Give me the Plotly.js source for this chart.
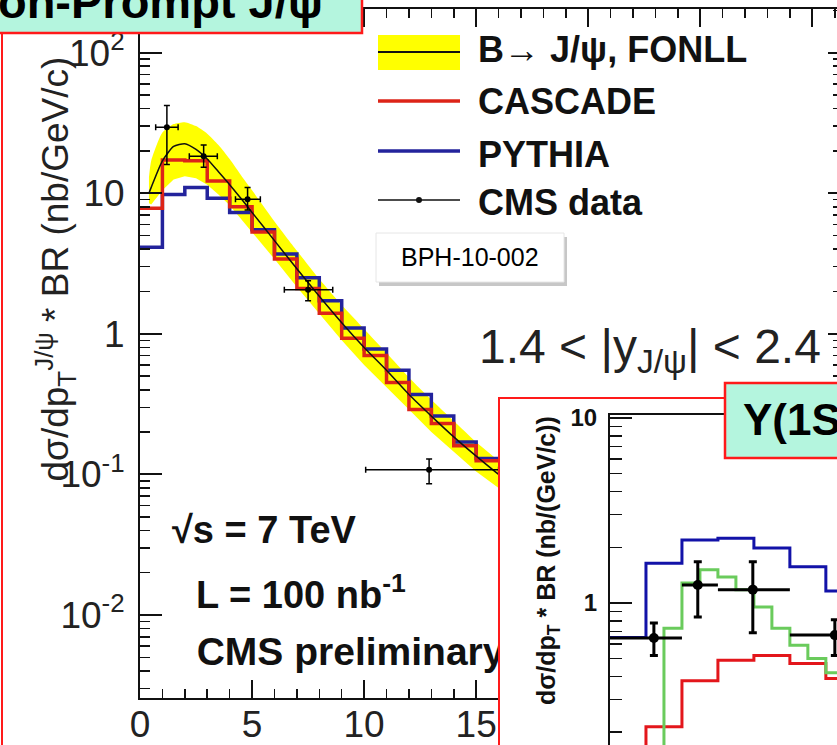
<!DOCTYPE html>
<html><head><meta charset="utf-8">
<script src="https://cdn.plot.ly/plotly-3.0.1.min.js"></script>
<style>html,body{margin:0;padding:0;background:#fff;} #chart{width:837px;height:745px;}</style>
</head><body><div id="chart"></div>
<script>
// ===== Main panel: non-prompt J/psi, 1.4 < |y| < 2.4 =====
const mainBinEdges = [0,1,2,3,4,5,6,7,8,9,10,11,12,13,14,15,16];
const cascadeMain = [7.8,17.2,17.0,12.2,8.0,5.3,3.4,2.1,1.4,0.93,0.70,0.45,0.29,0.23,0.16,0.125];
const pythiaMain  = [4.13,9.8,11.0,9.2,7.3,5.5,3.7,2.5,1.72,1.1,0.78,0.55,0.37,0.26,0.17,0.13];

const fonllPt      = [0.4,0.5,1.0,1.5,2.0,2.5,3.0,3.5,4.0,4.5,5.0,6.0,7.0,8.0,9.0,10,11,12,13,14,15,16];
const fonllCentral = [10,11,17,21.5,22.5,20.5,17.5,14.2,11.5,9.2,7.3,4.6,2.9,1.85,1.2,0.8,0.55,0.37,0.26,0.185,0.135,0.1];
const fonllHigh    = [13,17,27,31,32,30,26.5,22,17.5,13.5,10.5,6.3,3.9,2.45,1.6,1.08,0.73,0.49,0.34,0.24,0.17,0.125];
const fonllLow     = [8.5,8.3,10.5,12.5,13.2,12.8,11.5,9.8,8.2,6.6,5.3,3.4,2.15,1.38,0.9,0.6,0.42,0.29,0.2,0.145,0.105,0.08];

const cmsPt    = [1.2, 2.84, 4.8, 7.5, 12.9];
const cmsPtLo  = [0.7, 2.2, 4.26, 6.44, 10.07];
const cmsPtHi  = [1.7, 3.45, 5.37, 8.6, 16.0];
const cmsVal   = [29.5, 18.3, 9.06, 2.06, 0.108];
const cmsValLo = [16, 15.3, 7.6, 1.72, 0.086];
const cmsValHi = [42, 22, 11, 2.38, 0.129];

// ===== Inset: Upsilon(1S) =====
const upsBinEdges = [0,1,2,3,4,5,6,7];
const upsPythia   = [0.65,1.64,2.19,2.24,1.98,1.57,1.16];
const upsCascade  = [0.10,0.214,0.38,0.49,0.52,0.47,0.39];
const upsGreenEdges = [1.0,1.5,2.0,2.5,3.0,3.5,4.0,4.5,5.0,5.5,6.0,6.5];
const upsGreen      = [0.10,0.73,1.28,1.51,1.38,1.18,0.95,0.73,0.59,0.50,0.42];
const upsPt    = [1.22, 2.44, 3.97, 6.25];
const upsPtLo  = [0, 2, 3, 5];
const upsPtHi  = [2, 3, 5, 8];
const upsVal   = [0.647, 1.25, 1.18, 0.67];
const upsValLo = [0.52, 0.84, 0.69, 0.52];
const upsValHi = [0.78, 1.67, 1.67, 0.81];

const yTickText = ['10<sup>-2</sup>','10<sup>-1</sup>','1','10','10<sup>2</sup>'];

// ---------- helpers ----------
const F = 'Liberation Sans, Arial, Helvetica, sans-serif';
const W = 837, H = 745;
const px = x => x / W, py = y => 1 - y / H;
function steps(edges, vals) {
  const x = [], y = [];
  vals.forEach((v, i) => { x.push(edges[i]); y.push(v); });
  x.push(edges[vals.length]); y.push(vals[vals.length - 1]);
  return {x, y};
}
const diff = (a, b) => a.map((v, i) => v - b[i]);

const pyM = steps(mainBinEdges, pythiaMain);
const caM = steps(mainBinEdges, cascadeMain);
const pyU = steps(upsBinEdges, upsPythia);
const caU = steps(upsBinEdges, upsCascade);
const grU = steps(upsGreenEdges, upsGreen);

const traces = [
  {x: fonllPt, y: fonllLow, mode: 'lines', line: {width: 0, color: 'rgba(0,0,0,0)'}, hoverinfo: 'skip'},
  {x: fonllPt, y: fonllHigh, mode: 'lines', fill: 'tonexty', fillcolor: '#ffff00', line: {width: 0, color: 'rgba(0,0,0,0)', shape: 'spline', smoothing: 0.6}, hoverinfo: 'skip'},
  {x: pyM.x, y: pyM.y, mode: 'lines', name: 'PYTHIA', line: {shape: 'hv', color: '#23239c', width: 3.5}},
  {x: caM.x, y: caM.y, mode: 'lines', name: 'CASCADE', line: {shape: 'hv', color: '#dd2418', width: 3.5}},
  {x: fonllPt, y: fonllCentral, mode: 'lines', name: 'FONLL', line: {color: '#111', width: 1.5, shape: 'spline', smoothing: 0.6}},
  {x: cmsPt, y: cmsVal, mode: 'markers', name: 'CMS data', marker: {size: 6, color: '#000'},
   error_x: {type: 'data', symmetric: false, array: diff(cmsPtHi, cmsPt), arrayminus: diff(cmsPt, cmsPtLo), thickness: 1.5, width: 3, color: '#000'},
   error_y: {type: 'data', symmetric: false, array: diff(cmsValHi, cmsVal), arrayminus: diff(cmsVal, cmsValLo), thickness: 1.5, width: 3, color: '#000'}},
  {x: [2.53], y: [0.00519], mode: 'text', text: ['<b>CMS preliminary</b>'], textposition: 'middle right',
   textfont: {size: 39, color: '#111', family: F}, cliponaxis: true, hoverinfo: 'skip'},
  {x: [], y: [], xaxis: 'x', yaxis: 'y4', mode: 'lines'},
  {x: [], y: [], xaxis: 'x2', yaxis: 'y2', mode: 'lines'},
  {x: pyU.x, y: pyU.y, xaxis: 'x3', yaxis: 'y3', mode: 'lines', line: {shape: 'hv', color: '#1212a8', width: 3}},
  {x: caU.x, y: caU.y, xaxis: 'x3', yaxis: 'y3', mode: 'lines', line: {shape: 'hv', color: '#e3161b', width: 3}},
  {x: grU.x, y: grU.y, xaxis: 'x3', yaxis: 'y3', mode: 'lines', line: {shape: 'hv', color: '#6acb5c', width: 3}},
  {x: upsPt, y: upsVal, xaxis: 'x3', yaxis: 'y3', mode: 'markers', marker: {size: 10, color: '#000'},
   error_x: {type: 'data', symmetric: false, array: diff(upsPtHi, upsPt), arrayminus: diff(upsPt, upsPtLo), thickness: 3, width: 0, color: '#000'},
   error_y: {type: 'data', symmetric: false, array: diff(upsValHi, upsVal), arrayminus: diff(upsVal, upsValLo), thickness: 3, width: 4, color: '#000'}}
];

const axLine = {showline: true, linewidth: 2, linecolor: '#111', tickcolor: '#111', showgrid: false, zeroline: false};
const layout = {
  width: W, height: H, margin: {l: 0, r: 0, t: 0, b: 0},
  paper_bgcolor: '#fff', plot_bgcolor: '#fff', showlegend: false,
  font: {family: F, color: '#111'},
  xaxis: Object.assign({}, axLine, {domain: [px(140), 1], range: [0, 31.1], anchor: 'y', mirror: 'ticks',
    ticks: 'inside', ticklen: 18, tickwidth: 2, dtick: 5, tick0: 0,
    tickfont: {size: 37, color: '#222', family: F}, ticklabelstandoff: -7,
    minor: {ticks: 'inside', ticklen: 9, tickwidth: 1.5, dtick: 1, tickcolor: '#111', showgrid: false}}),
  yaxis: Object.assign({}, axLine, {domain: [py(698), py(9)], type: 'log', range: [-2.59, 2.31], anchor: 'x',
    ticks: 'inside', ticklen: 22, tickwidth: 2, tickmode: 'array', tickvals: [0.01, 0.1, 1, 10, 100], ticktext: yTickText,
    tickfont: {size: 37, color: '#222', family: F}, ticklabelstandoff: 6,
    minor: {ticks: 'inside', ticklen: 10, tickwidth: 1.5, dtick: 'D1', tickcolor: '#111', showgrid: false}}),
  yaxis4: {overlaying: 'y', side: 'right', type: 'log', range: [-2.59, 2.31], anchor: 'x', showline: false,
    ticks: 'inside', ticklen: 9, tickwidth: 2, tickcolor: '#111', dtick: 1, showticklabels: false, showgrid: false, zeroline: false,
    minor: {ticks: 'inside', ticklen: 4, tickwidth: 1.5, dtick: 'D1', tickcolor: '#111', showgrid: false}},
  xaxis2: {domain: [px(499), 1], anchor: 'y2', visible: false, range: [0, 1]},
  yaxis2: {domain: [0, py(398)], anchor: 'x2', visible: false, range: [0, 1]},
  xaxis3: Object.assign({}, axLine, {domain: [px(610), 1], anchor: 'y3', range: [0, 6.31], side: 'top', ticks: '', showticklabels: false}),
  yaxis3: Object.assign({}, axLine, {domain: [0, py(415)], anchor: 'x3', type: 'log', range: [-0.768, 1.016],
    ticks: 'inside', ticklen: 22, tickwidth: 2, tickmode: 'array', tickvals: [1, 10], ticktext: ['1', '10'],
    tickfont: {size: 24, color: '#111', family: F, weight: 'bold'}, ticklabelstandoff: 6,
    minor: {ticks: 'inside', ticklen: 12, tickwidth: 1.5, dtick: 'D1', tickcolor: '#111', showgrid: false}}),
  shapes: [
    {type: 'line', xref: 'paper', yref: 'paper', x0: px(2), x1: px(2), y0: 0, y1: 1, line: {color: '#ff1a1a', width: 2}},
    {type: 'rect', xref: 'paper', yref: 'paper', x0: -0.1, x1: px(362), y0: py(33), y1: 1.1, fillcolor: '#b4f5de', line: {color: '#ff1a1a', width: 2.5}},
    // legend samples
    {type: 'rect', xref: 'paper', yref: 'paper', x0: px(378), x1: px(460), y0: py(70), y1: py(35), fillcolor: '#ffff00', line: {width: 0}},
    {type: 'line', xref: 'paper', yref: 'paper', x0: px(378), x1: px(460), y0: py(52), y1: py(52), line: {color: '#111', width: 2}},
    {type: 'line', xref: 'paper', yref: 'paper', x0: px(378), x1: px(460), y0: py(101), y1: py(101), line: {color: '#dd2418', width: 3.5}},
    {type: 'line', xref: 'paper', yref: 'paper', x0: px(378), x1: px(460), y0: py(151), y1: py(151), line: {color: '#23239c', width: 3.5}},
    {type: 'line', xref: 'paper', yref: 'paper', x0: px(378), x1: px(460), y0: py(200), y1: py(200), line: {color: '#111', width: 1.5}},
    {type: 'circle', xref: 'paper', yref: 'paper', x0: px(416), x1: px(422), y0: py(203), y1: py(197), fillcolor: '#111', line: {width: 0}},
    // BPH box
    {type: 'rect', xref: 'paper', yref: 'paper', x0: px(379), x1: px(567), y0: py(286), y1: py(237), fillcolor: 'rgba(0,0,0,0.22)', line: {width: 0}},
    {type: 'rect', xref: 'paper', yref: 'paper', x0: px(376), x1: px(564), y0: py(282), y1: py(233), fillcolor: '#fff', line: {color: '#e6e6e6', width: 1}},
    // inset frame and title box
    {type: 'rect', xref: 'paper', yref: 'paper', x0: px(499), x1: 1.1, y0: -0.1, y1: py(398), line: {color: '#ff1a1a', width: 2}},
    {type: 'rect', xref: 'paper', yref: 'paper', x0: px(725), x1: 1.1, y0: py(458), y1: py(383), fillcolor: '#b4f5de', line: {color: '#ff1a1a', width: 2.5}}
  ],
  annotations: []
};

function ann(text, x, y, o) {
  layout.annotations.push(Object.assign({text, x: px(x), y: py(y), xref: 'paper', yref: 'paper', showarrow: false,
    xanchor: 'left', yanchor: 'middle', font: {family: F, size: 36, color: '#111'}}, o || {}));
}
ann('<b>Non-Prompt J/ψ</b>', -38, 2, {font: {family: F, size: 47, color: '#000'}});
ann('<b>B→ J/ψ, FONLL</b>', 476, 49);
ann('<b>CASCADE</b>', 476, 102);
ann('<b>PYTHIA</b>', 476, 154);
ann('<b>CMS data</b>', 476, 202);
ann('BPH-10-002', 470, 257, {xanchor: 'center', font: {family: F, size: 25, color: '#000'}});
ann('1.4 < |y<sub>J/ψ</sub>| < 2.4', 477, 350, {font: {family: F, size: 48, color: '#222'}});
ann('<b>√s = 7 TeV</b>', 170, 530, {font: {family: F, size: 38, color: '#111'}});
ann('<b>L = 100 nb<sup>-1</sup></b>', 194, 592, {font: {family: F, size: 38, color: '#111'}});
ann('dσ/dp<sub>T</sub><sup>J/ψ</sup> * BR (nb/GeV/c)', 55, 484, {textangle: -90, xanchor: 'center', yanchor: 'bottom', font: {family: F, size: 37, color: '#222'}});
ann('<b>dσ/dp<sub>T</sub> * BR (nb/(GeV/c))</b>', 548, 561, {textangle: -90, xanchor: 'center', yanchor: 'middle', font: {family: F, size: 25, color: '#111'}});
ann('<b>Y(1S)</b>', 741, 419, {font: {family: F, size: 44, color: '#000'}});

Plotly.newPlot('chart', traces, layout, {displayModeBar: false, staticPlot: true});
</script>
</body></html>
